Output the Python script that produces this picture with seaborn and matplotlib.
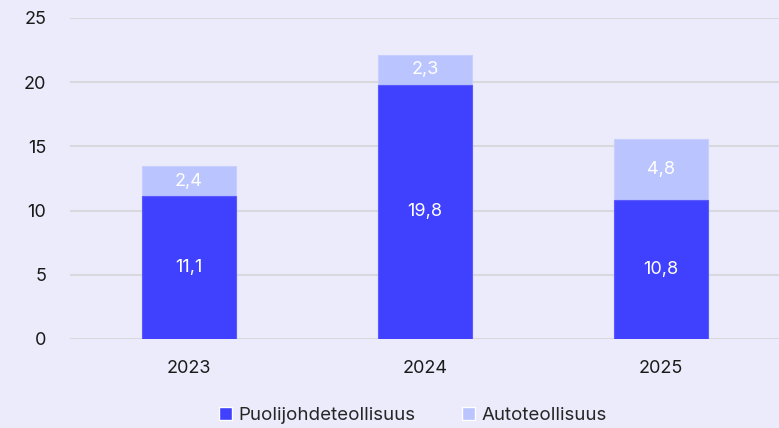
import matplotlib
matplotlib.use("Agg")
import matplotlib.pyplot as plt
import seaborn as sns
import pandas as pd
from matplotlib.patches import Patch

years = ["2023", "2024", "2025"]
semi = [11.1, 19.8, 10.8]
auto = [2.4, 2.3, 4.8]
labels = ["Puolijohdeteollisuus", "Autoteollisuus"]

dark = "#4040FF"
light = "#BAC4FF"
bg = "#EBEBFB"

sns.set_style("white")
plt.rcParams["font.family"] = ["Inter", "DejaVu Sans"]

df = pd.DataFrame({"year": years, "semi": semi, "auto": auto})
df["total"] = df["semi"] + df["auto"]

fig = plt.figure(figsize=(7.79, 4.28), dpi=100, facecolor=bg)
ax = fig.add_axes([0.0899, 0.208, 0.9101, 0.75])
ax.set_facecolor(bg)

sns.barplot(data=df, x="year", y="total", color=light, width=0.4, saturation=1, ax=ax, zorder=3,
            edgecolor="#C8CFFF", linewidth=0.8)
sns.barplot(data=df, x="year", y="semi", color=dark, width=0.4, saturation=1, ax=ax, zorder=3,
            edgecolor="#5A5AFF", linewidth=0.8)

for i, row in df.iterrows():
    ax.text(i, row["semi"] / 2, f"{row['semi']:.1f}".replace(".", ","), ha="center", va="center",
            color="white", fontsize=13, zorder=4)
    ax.text(i, row["semi"] + row["auto"] / 2, f"{row['auto']:.1f}".replace(".", ","), ha="center",
            va="center", color="white", fontsize=13, zorder=4)

ax.set_ylim(0, 25)
ax.set_xlim(-0.503, 2.5)
ax.set_yticks([0, 5, 10, 15, 20, 25])
ax.yaxis.grid(True, color="#D8D8DE", linewidth=1.5, zorder=0)
ax.set_axisbelow(True)
for s in ax.spines.values():
    s.set_visible(False)
ax.tick_params(axis="both", length=0, labelsize=13, colors="#1a1a1a")
ax.tick_params(axis="y", pad=17)
ax.tick_params(axis="x", pad=15)
ax.set_xlabel("")
ax.set_ylabel("")

handles = [Patch(facecolor=dark, label=labels[0]), Patch(facecolor=light, label=labels[1])]
fig.legend(handles=handles, loc="lower center", bbox_to_anchor=(0.53, -0.03), ncol=2, frameon=False,
           fontsize=13.5, handlelength=0.7, handleheight=0.7, handletextpad=0.35, columnspacing=2.5)

fig.savefig("out.png", dpi=100, facecolor=bg)
